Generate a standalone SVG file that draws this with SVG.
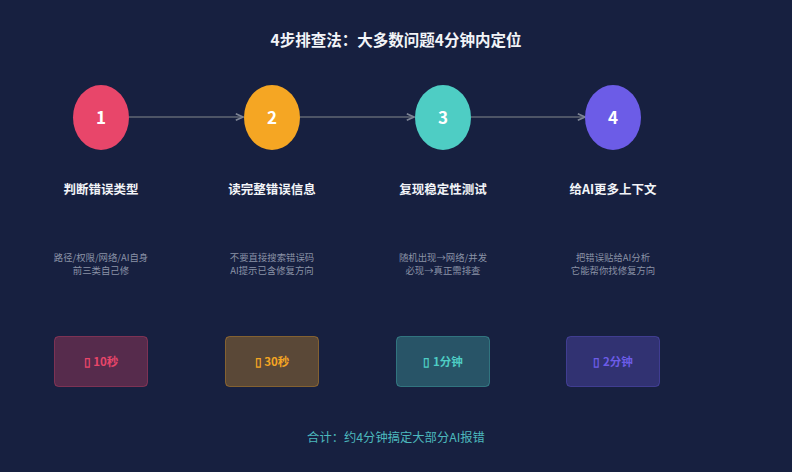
<svg xmlns="http://www.w3.org/2000/svg" width="792" height="472" viewBox="0 0 792 472">
<defs>
<style>
text{font-family:"Noto Sans CJK SC","Noto Sans",sans-serif;text-anchor:middle}
.title{font-size:15.5px;font-weight:700;fill:#f2f4f8}
.num{font-size:17px;font-weight:700;fill:#ffffff}
.lbl{font-size:12.5px;font-weight:700;fill:#f2f4f8}
.desc{font-size:9.4px;fill:#8a92a6}
.tm{font-size:11.5px;font-weight:700}
.foot{font-size:12.3px;fill:#4cb8bd}
.conn{stroke:#4d5466;stroke-width:2;fill:none}
</style>
<marker id="arr" viewBox="0 0 10 10" refX="9" refY="5" markerWidth="9" markerHeight="9" orient="auto" markerUnits="userSpaceOnUse">
<path d="M1,1.5 L9,5 L1,8.5" fill="none" stroke="#7d8494" stroke-width="1.8"/>
</marker>
</defs>
<rect width="792" height="472" fill="#172040"/>
<text class="title" x="396" y="46">4步排查法：大多数问题4分钟内定位</text>
<g id="connectors">
<line class="conn" x1="129" y1="117" x2="243" y2="117" marker-end="url(#arr)"/>
<line class="conn" x1="300" y1="117" x2="414" y2="117" marker-end="url(#arr)"/>
<line class="conn" x1="471" y1="117" x2="585" y2="117" marker-end="url(#arr)"/>
</g>
<g id="step1">
<ellipse cx="101" cy="117.5" rx="28" ry="32.5" fill="#e8466a"/>
<text class="num" x="101" y="123.5">1</text>
<text class="lbl" x="101" y="194">判断错误类型</text>
<text class="desc" x="101" y="260.5">路径/权限/网络/AI自身</text>
<text class="desc" x="101" y="274">前三类自己修</text>
<rect x="54.5" y="336.5" width="93" height="50" rx="4" fill="#e8466a" fill-opacity="0.3" stroke="#e8466a" stroke-opacity="0.4"/>
<text class="tm" x="101" y="365.5" fill="#e8466a">▯ 10秒</text>
</g>
<g id="step2">
<ellipse cx="272" cy="117.5" rx="28" ry="32.5" fill="#f5a623"/>
<text class="num" x="272" y="123.5">2</text>
<text class="lbl" x="272" y="194">读完整错误信息</text>
<text class="desc" x="272" y="260.5">不要直接搜索错误码</text>
<text class="desc" x="272" y="274">AI提示已含修复方向</text>
<rect x="225.5" y="336.5" width="93" height="50" rx="4" fill="#f5a623" fill-opacity="0.3" stroke="#f5a623" stroke-opacity="0.4"/>
<text class="tm" x="272" y="365.5" fill="#f5a623">▯ 30秒</text>
</g>
<g id="step3">
<ellipse cx="443" cy="117.5" rx="28" ry="32.5" fill="#4ecdc4"/>
<text class="num" x="443" y="123.5">3</text>
<text class="lbl" x="443" y="194">复现稳定性测试</text>
<text class="desc" x="443" y="260.5">随机出现→网络/并发</text>
<text class="desc" x="443" y="274">必现→真正需排查</text>
<rect x="396.5" y="336.5" width="93" height="50" rx="4" fill="#4ecdc4" fill-opacity="0.3" stroke="#4ecdc4" stroke-opacity="0.4"/>
<text class="tm" x="443" y="365.5" fill="#4ecdc4">▯ 1分钟</text>
</g>
<g id="step4">
<ellipse cx="613" cy="117.5" rx="28" ry="32.5" fill="#6c5ce7"/>
<text class="num" x="613" y="123.5">4</text>
<text class="lbl" x="613" y="194">给AI更多上下文</text>
<text class="desc" x="613" y="260.5">把错误贴给AI分析</text>
<text class="desc" x="613" y="274">它能帮你找修复方向</text>
<rect x="566.5" y="336.5" width="93" height="50" rx="4" fill="#6c5ce7" fill-opacity="0.3" stroke="#6c5ce7" stroke-opacity="0.4"/>
<text class="tm" x="613" y="365.5" fill="#6c5ce7">▯ 2分钟</text>
</g>
<text class="foot" x="396" y="442">合计：约4分钟搞定大部分AI报错</text>
</svg>
